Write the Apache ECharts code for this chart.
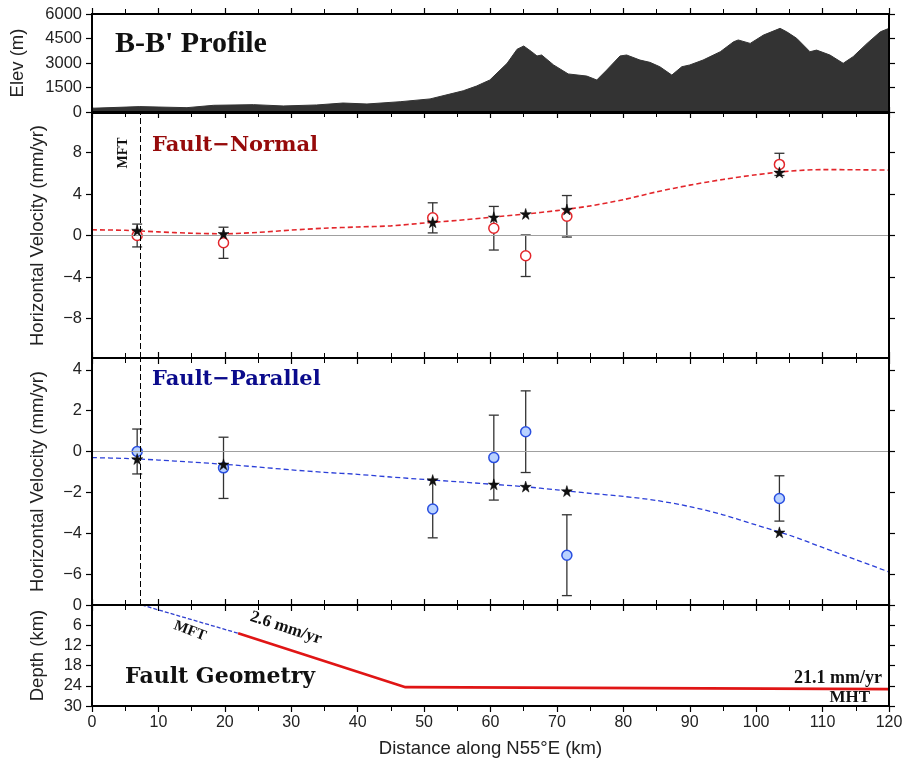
<!DOCTYPE html>
<html><head><meta charset="utf-8">
<script src="https://cdn.jsdelivr.net/npm/echarts@6/dist/echarts.min.js"></script>
<style>html,body{margin:0;padding:0;background:#fff}#c{width:907px;height:771px}</style>
</head><body><div id="c"></div>
<script>
// ---------- DATA ----------
const elevX = [0, 7.2, 14.3, 18.3, 24.3, 28.8, 33.8, 37.8, 41.4, 46.4, 50.9, 53.9, 55.9, 57.9, 59.9, 62.5, 64, 65, 66.2, 67, 67.7, 69.5, 71.7, 74.5, 76, 77.5, 79.5, 80.5, 82.5, 84, 85.5, 87.3, 88.8, 90, 92, 94.6, 96.6, 97.3, 99.1, 101.1, 103.6, 104.6, 106.1, 108.1, 109.1, 111.1, 113.1, 114.6, 116.7, 118.7, 120];
const elevZ = [230, 330, 265, 410, 450, 370, 430, 550, 490, 630, 800, 1100, 1300, 1590, 1960, 2980, 3840, 4040, 3690, 3430, 3490, 2880, 2330, 2200, 1960, 2570, 3430, 3490, 3180, 3040, 2770, 2260, 2770, 2880, 3180, 3690, 4300, 4410, 4200, 4710, 5120, 4910, 4510, 3690, 3790, 3490, 2980, 3390, 4200, 4910, 5120];

const stationX      = [6.8, 19.8, 51.3, 60.5, 65.3, 71.5, 103.5];
const normalObs     = [0.0, -0.7, 1.7, 0.7, -1.95, 1.85, 6.85];
const normalErr     = [1.1, 1.5, 1.45, 2.1, 2.0, 2.0, 1.07];
const normalModel   = [0.48, 0.16, 1.28, 1.76, 2.08, 2.5, 6.08];
const parallelObs   = [0.0, -0.8, -2.82, -0.3, 0.97, -5.08, -2.3];
const parallelErr   = [1.1, 1.5, 1.41, 2.08, 2.0, 1.98, 1.11];
const parallelModel = [-0.37, -0.63, -1.4, -1.61, -1.72, -1.94, -3.96];

const curveX        = [0,5,10,15,20,25,30,35,40,45,50,55,60,65,70,75,80,85,90,95,100,105,110,115,120];
const normalCurve   = [0.55,0.5,0.35,0.22,0.17,0.3,0.52,0.7,0.82,0.93,1.2,1.45,1.75,2.05,2.4,2.85,3.45,4.2,4.85,5.4,5.85,6.2,6.35,6.33,6.3];
const parallelCurve = [-0.3,-0.34,-0.42,-0.52,-0.63,-0.76,-0.9,-1.02,-1.12,-1.25,-1.37,-1.48,-1.6,-1.72,-1.88,-2.05,-2.2,-2.4,-2.7,-3.1,-3.6,-4.1,-4.7,-5.3,-5.9];

const mftX = 7.25;
const mftTraceX = [7.5, 22];
const mftTraceZ = [0, 8.4];
const mhtTraceX = [22, 47.2, 120];
const mhtTraceZ = [8.4, 24.4, 25.0];

const elevTicks = [0, 1500, 3000, 4500, 6000];
const normalTicks = [-8, -4, 0, 4, 8];
const parallelTicks = [-6, -4, -2, 0, 2, 4];
const depthTicks = [0, 6, 12, 18, 24, 30];

// ---------- BUILD ----------
const zip = (a, b) => a.map((v, i) => [v, b[i]]);
const bars = (obs, err) => stationX.map((x, i) => [x, obs[i] - err[i], obs[i] + err[i]]);
const SANS = '"Liberation Sans", Arial, sans-serif';
const STAR = 'path://M50,0 L61,35 L98,35 L68,57 L79,91 L50,70 L21,91 L32,57 L2,35 L39,35 Z';
const fmt = v => (v < 0 ? '\u2212' + Math.abs(v) : String(v));

const chart = echarts.init(document.getElementById('c'));

const grids = [
  {top:14, height:98}, {top:113, height:245}, {top:358, height:247}, {top:605, height:101}
].map(g => Object.assign(g, {left:92, right:18, show:true, borderColor:'#000', borderWidth:2, backgroundColor:'transparent', z:10}));

function xAx(gi, pos, labels) {
  return {type:'value', gridIndex:gi, position:pos, min:0, max:120, interval:10,
    axisLine:{show:false, onZero:false}, splitLine:{show:false},
    axisTick:{show:true, inside:false, length:6, lineStyle:{color:'#000', width:1.2}},
    minorTick:{show:true, splitNumber:2, length:5, lineStyle:{color:'#000', width:1}},
    axisLabel:{show:labels, showMinLabel:true, showMaxLabel:true, fontFamily:SANS, fontSize:16, color:'#222', margin:9, formatter:fmt},
    name: labels ? 'Distance along N55°E (km)' : '', nameLocation:'middle', nameGap:33,
    nameTextStyle:{fontFamily:SANS, fontSize:18.5, color:'#222'}};
}
function yAx(gi, pos, min, max, ticks, name, gap, inverse) {
  const left = pos === 'left';
  return {type:'value', gridIndex:gi, position:pos, min, max, inverse:!!inverse,
    axisLine:{show:false, onZero:false}, splitLine:{show:false},
    axisTick:{show:true, inside:false, length:6, customValues:ticks, lineStyle:{color:'#000', width:1.2}},
    axisLabel:{show:left, customValues:ticks, fontFamily:SANS, fontSize:16.5, color:'#222', margin:10, formatter:fmt},
    name: left ? name : '', nameLocation:'middle', nameGap:gap,
    nameTextStyle:{fontFamily:SANS, fontSize:18.5, color:'#222'}};
}

const xAxes = [];
for (let i = 0; i < 4; i++) { xAxes.push(xAx(i, 'bottom', i === 3)); xAxes.push(xAx(i, 'top', false)); }
const yAxes = [
  yAx(0,'left',0,6000,elevTicks,'Elev (m)',65), yAx(0,'right',0,6000,elevTicks,'',0),
  yAx(1,'left',-11.8,11.8,normalTicks,'Horizontal Velocity (mm/yr)',45), yAx(1,'right',-11.8,11.8,normalTicks,'',0),
  yAx(2,'left',-7.52,4.58,parallelTicks,'Horizontal Velocity (mm/yr)',45), yAx(2,'right',-7.52,4.58,parallelTicks,'',0),
  yAx(3,'left',0,30,depthTicks,'Depth (km)',45,true), yAx(3,'right',0,30,depthTicks,'',0,true)
];

function errSeries(ax, data) {
  return {type:'custom', xAxisIndex:ax, yAxisIndex:ax, z:3, data,
    renderItem:(p, api) => {
      const x = api.value(0), lo = api.coord([x, api.value(1)]), hi = api.coord([x, api.value(2)]);
      const w = 5, st = {stroke:'#333', lineWidth:1.3};
      return {type:'group', children:[
        {type:'line', shape:{x1:lo[0], y1:lo[1], x2:hi[0], y2:hi[1]}, style:st},
        {type:'line', shape:{x1:lo[0]-w, y1:lo[1], x2:lo[0]+w, y2:lo[1]}, style:st},
        {type:'line', shape:{x1:hi[0]-w, y1:hi[1], x2:hi[0]+w, y2:hi[1]}, style:st}
      ]};
    }};
}
function refLines() {
  return {symbol:['none','none'], silent:true, label:{show:false}, animation:false,
    data:[{yAxis:0, lineStyle:{color:'#a0a0a0', type:'solid', width:1}},
          {xAxis:mftX, lineStyle:{color:'#000', type:[6,3], width:1}}]};
}

const series = [
  {type:'line', xAxisIndex:0, yAxisIndex:0, data:zip(elevX, elevZ), symbol:'none',
   lineStyle:{color:'#333', width:1}, areaStyle:{color:'#333', opacity:1}, z:2},
  // fault-normal
  {type:'line', xAxisIndex:2, yAxisIndex:2, data:zip(curveX, normalCurve), symbol:'none', smooth:0.3,
   lineStyle:{color:'#e3262b', width:1.6, type:[5,3]}, z:3, markLine:refLines()},
  errSeries(2, bars(normalObs, normalErr)),
  {type:'scatter', xAxisIndex:2, yAxisIndex:2, data:zip(stationX, normalObs), symbol:'circle', symbolSize:10,
   itemStyle:{color:'#fff', borderColor:'#e3262b', borderWidth:1.5, opacity:1}, z:4},
  {type:'scatter', xAxisIndex:2, yAxisIndex:2, data:zip(stationX, normalModel), symbol:STAR, symbolSize:11,
   itemStyle:{color:'#111', borderColor:'#000', borderWidth:0.5, opacity:1}, z:5},
  // fault-parallel
  {type:'line', xAxisIndex:4, yAxisIndex:4, data:zip(curveX, parallelCurve), symbol:'none', smooth:0.3,
   lineStyle:{color:'#2b3fd8', width:1.3, type:[5,3]}, z:3, markLine:refLines()},
  errSeries(4, bars(parallelObs, parallelErr)),
  {type:'scatter', xAxisIndex:4, yAxisIndex:4, data:zip(stationX, parallelObs), symbol:'circle', symbolSize:10,
   itemStyle:{color:'#b9d2ff', borderColor:'#2a4fe0', borderWidth:1.5, opacity:1}, z:4},
  {type:'scatter', xAxisIndex:4, yAxisIndex:4, data:zip(stationX, parallelModel), symbol:STAR, symbolSize:11,
   itemStyle:{color:'#111', borderColor:'#000', borderWidth:0.5, opacity:1}, z:5},
  // fault geometry
  {type:'line', xAxisIndex:6, yAxisIndex:6, data:zip(mftTraceX, mftTraceZ), symbol:'none',
   lineStyle:{color:'#3040d0', width:1.3, type:[4,2]}, z:3},
  {type:'line', xAxisIndex:6, yAxisIndex:6, data:zip(mhtTraceX, mhtTraceZ), symbol:'none',
   lineStyle:{color:'#e01515', width:2.6}, z:3}
];

function txt(text, x, y, font, fill, align, rot) {
  return {type:'text', x, y, rotation:rot || 0, z:20,
    style:{text, font, fill, align:align||'left', textAlign:align||'left', verticalAlign:'middle', textVerticalAlign:'middle'}};
}
const SERIF = '"Liberation Serif", "Times New Roman", serif';
const BOOK = '"DejaVu Serif", serif';
const graphic = [
  txt("B-B' Profile", 115, 44, 'bold 30px ' + SERIF, '#111', 'left'),
  txt('Fault\u2212Normal', 152, 146, 'bold 21px ' + BOOK, '#960a0a', 'left'),
  txt('Fault\u2212Parallel', 152, 380, 'bold 21px ' + BOOK, '#0b0b8c', 'left'),
  txt('MFT', 123, 153, 'bold 14px ' + SERIF, '#111', 'center', Math.PI/2),
  txt('MFT', 190, 631, 'bold 15px ' + SERIF, '#111', 'center', -0.36),
  txt('2.6 mm/yr', 286, 628, 'bold 17px ' + SERIF, '#111', 'center', -0.32),
  txt('Fault Geometry', 125, 677, 'bold 22px ' + BOOK, '#111', 'left'),
  txt('21.1 mm/yr', 882, 678, 'bold 18px ' + SERIF, '#111', 'right'),
  txt('MHT', 870, 698, 'bold 17px ' + SERIF, '#111', 'right')
];

chart.setOption({animation:false, grid:grids, xAxis:xAxes, yAxis:yAxes, series, graphic});
</script></body></html>
